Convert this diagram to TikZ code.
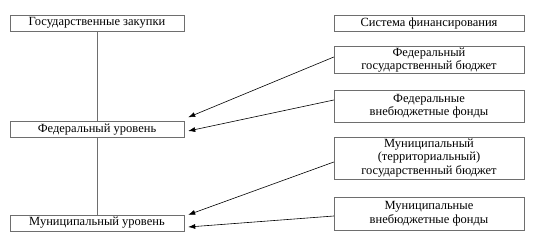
\documentclass[tikz,border=0pt]{standalone}
\usepackage{fontspec}
\setmainfont{Liberation Serif}
\usepackage{tikz}
\usetikzlibrary{arrows.meta,positioning}
\definecolor{boxgray}{RGB}{110,110,110}

\begin{document}
\begin{tikzpicture}[
    x=1pt,y=-1pt,
    lbox/.style={rectangle,draw=boxgray,fill=white,minimum width=174pt,minimum height=16pt,inner sep=1pt,text centered,font=\fontsize{12.5}{13.5}\selectfont},
    rbox/.style={rectangle,draw=boxgray,fill=white,minimum width=190pt,inner sep=1pt,align=center,font=\fontsize{12.5}{13.5}\selectfont},
    arrow/.style={-{Latex[length=7pt,width=5pt]},semithick}
]
\useasboundingbox (0,0) rectangle (535,239);
\node[lbox] (gz) at (97,23) {Государственные закупки};
\node[lbox] (fed) at (97,129.5) {Федеральный уровень};
\node[lbox] (mun) at (97,223) {Муниципальный уровень};
\node[rbox,minimum height=16pt] (sf) at (429,23) {Система финансирования};
\node[rbox,minimum height=26pt] (fb) at (429,60) {Федеральный\\государственный бюджет};
\node[rbox,minimum height=32pt] (ff) at (429,106) {Федеральные\\внебюджетные фонды};
\node[rbox,minimum height=42pt] (mb) at (429,158) {Муниципальный\\(территориальный)\\государственный бюджет};
\node[rbox,minimum height=33pt] (mf) at (429,213.5) {Муниципальные\\внебюджетные фонды};
\draw[boxgray] (gz.south) -- (fed.north);
\draw[boxgray] (fed.south) -- (mun.north);
\draw[arrow] ([yshift=3pt]fb.west) -- ([shift={(4pt,4pt)}]fed.north east);
\draw[arrow] ([yshift=6pt]ff.west) -- ([shift={(4pt,-1.5pt)}]fed.east);
\draw[arrow] ([yshift=-4pt]mb.west) -- ([xshift=4pt]mun.north east);
\draw[arrow] ([yshift=-2.5pt]mf.west) -- ([shift={(4pt,-4pt)}]mun.east);
\end{tikzpicture}
\end{document}
